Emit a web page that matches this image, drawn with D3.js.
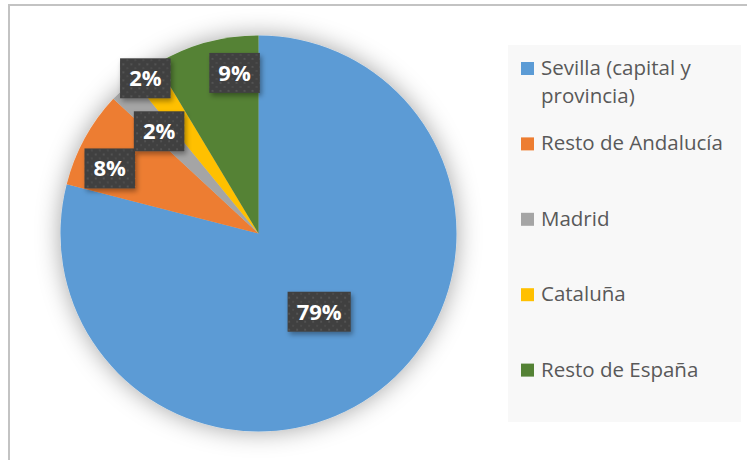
<!DOCTYPE html>
<html>
  <head>
    <meta charset="utf-8">
    <title>Procedencia</title>
    <script src="https://d3js.org/d3.v7.min.js"></script>
    <style>
      body { margin: 0; background: #fff; }
      svg { display: block; }
      .legend text { font-family: "Open Sans", sans-serif; font-size: 20.5px; fill: #595959; }
      .label text { font-family: "Open Sans", sans-serif; font-size: 22px; font-weight: bold; fill: #fff; }
    </style>
  </head>
  <body>
    <svg id="svg" width="747" height="460"></svg>
    <script>
      // data
      var categories = ["Sevilla (capital y provincia)", "Resto de Andalucía", "Madrid", "Cataluña", "Resto de España"];
      var legendLines = [["Sevilla (capital y", "provincia)"], ["Resto de Andalucía"], ["Madrid"], ["Cataluña"], ["Resto de España"]];
      var values = [79.0, 7.9, 2.2, 2.3, 8.6];
      var colors = ["#5b9bd5", "#ed7d31", "#a5a5a5", "#ffc000", "#548235"];
      // label placement (fraction of radius, angle shift in degrees)
      var labelRadius = [0.5, 0.82, 0.72, 0.97, 0.82];
      var labelShift = [0, -5, -1, -1, 7];

      var width = 747, height = 460;
      var cx = 258.5, cy = 233.5, radius = 198;
      var svg = d3.select("#svg");
      var defs = svg.append("defs");

      // soft shadow round the pie
      var shadow = defs.append("filter").attr("id", "pieShadow")
        .attr("x", "-30%").attr("y", "-30%").attr("width", "160%").attr("height", "160%");
      shadow.append("feDropShadow").attr("dx", 0).attr("dy", 0)
        .attr("stdDeviation", 12).attr("flood-color", "#000").attr("flood-opacity", 0.36);
      var boxShadow = defs.append("filter").attr("id", "boxShadow")
        .attr("x", "-30%").attr("y", "-30%").attr("width", "160%").attr("height", "160%");
      boxShadow.append("feDropShadow").attr("dx", 2).attr("dy", 3)
        .attr("stdDeviation", 2.5).attr("flood-color", "#000").attr("flood-opacity", 0.35);
      // dotted texture for the data labels
      var pattern = defs.append("pattern").attr("id", "dots")
        .attr("width", 8).attr("height", 8).attr("patternUnits", "userSpaceOnUse");
      pattern.append("rect").attr("width", 8).attr("height", 8).attr("fill", "#404040");
      pattern.append("circle").attr("cx", 2).attr("cy", 2).attr("r", 0.9).attr("fill", "#5a5a5a");
      pattern.append("circle").attr("cx", 6).attr("cy", 6).attr("r", 0.9).attr("fill", "#505050");

      // chart frame
      svg.append("line").attr("x1", 8).attr("x2", width).attr("y1", 5).attr("y2", 5)
        .attr("stroke", "#c3c3c3").attr("stroke-width", 2);
      svg.append("line").attr("x1", 9).attr("x2", 9).attr("y1", 4).attr("y2", height)
        .attr("stroke", "#c3c3c3").attr("stroke-width", 2);

      // pie
      var pie = d3.pie().sort(null).value(function(d) { return d; });
      var arcs = pie(values);
      var arc = d3.arc().innerRadius(0).outerRadius(radius);
      var pieGroup = svg.append("g").attr("transform", "translate(" + cx + "," + cy + ")");
      pieGroup.append("g").attr("filter", "url(#pieShadow)")
        .selectAll("path")
          .data(arcs)
        .enter().append("path")
          .attr("d", arc)
          .attr("fill", function(d, i) { return colors[i]; });

      // data labels
      var fmt = d3.format(".0%");
      var labels = pieGroup.selectAll(".label")
          .data(arcs)
        .enter().append("g")
          .classed("label", true)
          .attr("transform", function(d, i) {
            var a = (d.startAngle + d.endAngle) / 2 + labelShift[i] * Math.PI / 180;
            var r = radius * labelRadius[i];
            return "translate(" + (r * Math.sin(a)) + "," + (-r * Math.cos(a)) + ")";
          });
      labels.append("text")
        .attr("text-anchor", "middle")
        .attr("dy", "0.36em")
        .text(function(d) { return fmt(d.value / 100); });
      labels.each(function() {
        var g = d3.select(this);
        var bb = g.select("text").node().getBBox();
        var w = bb.width + 18, h = 40;
        g.insert("rect", "text")
          .attr("x", -w / 2).attr("y", -h / 2)
          .attr("width", w).attr("height", h)
          .attr("fill", "url(#dots)")
          .attr("filter", "url(#boxShadow)");
      });

      // legend
      var legendX = 508, legendTop = 45, legendBottom = 422;
      var legend = svg.append("g").classed("legend", true);
      legend.append("rect")
        .attr("x", legendX).attr("y", legendTop)
        .attr("width", 233).attr("height", legendBottom - legendTop)
        .attr("fill", "#f8f8f8");
      var y = d3.scaleBand().domain(categories).range([legendTop, legendBottom]);
      var items = legend.selectAll(".item")
          .data(categories)
        .enter().append("g")
          .classed("item", true)
          .attr("transform", function(d) { return "translate(" + legendX + "," + (y(d) + 30) + ")"; });
      items.append("rect")
        .attr("x", 13).attr("y", -13)
        .attr("width", 13).attr("height", 13)
        .attr("fill", function(d, i) { return colors[i]; });
      items.append("text")
        .attr("x", 33)
        .selectAll("tspan")
          .data(function(d, i) { return legendLines[i]; })
        .enter().append("tspan")
          .attr("x", 33)
          .attr("dy", function(d, j) { return j === 0 ? 0 : 28; })
          .text(function(d) { return d; });
    </script>
  </body>
</html>
